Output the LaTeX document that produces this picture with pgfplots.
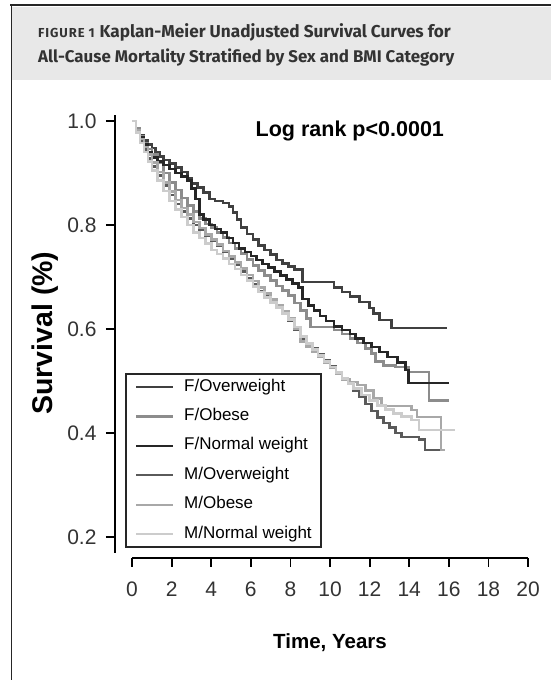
\documentclass[border=0pt]{standalone}
\usepackage{pgfplots}
\pgfplotsset{compat=1.18}
\usepackage{fontspec}
\setmainfont{Liberation Sans}
\newfontfamily\titlefont{Fira Sans}

\definecolor{fow}{HTML}{404040}
\definecolor{fob}{HTML}{8C8C8C}
\definecolor{fnw}{HTML}{262626}
\definecolor{mow}{HTML}{5A5A5A}
\definecolor{mob}{HTML}{A8A8A8}
\definecolor{mnw}{HTML}{CCCCCC}

% Kaplan-Meier steps: time (years), survival
\pgfplotstableread{
t s
0 1.000
0.2 0.985
0.4 0.972
0.6 0.962
0.8 0.955
1.0 0.948
1.2 0.940
1.4 0.932
1.6 0.925
1.9 0.918
2.2 0.910
2.5 0.902
2.8 0.890
3.0 0.880
3.3 0.872
3.6 0.862
3.9 0.850
4.2 0.846
4.6 0.842
4.9 0.836
5.1 0.824
5.3 0.810
5.5 0.795
5.8 0.783
6.1 0.772
6.4 0.760
6.7 0.752
7.0 0.743
7.3 0.733
7.6 0.726
7.9 0.720
8.2 0.714
8.6 0.690
10.2 0.680
10.6 0.671
11.0 0.662
11.5 0.652
12.0 0.640
12.2 0.630
12.5 0.617
13.1 0.602
15.9 0.602
}\fow

\pgfplotstableread{
t s
0 1.000
0.2 0.985
0.4 0.970
0.6 0.958
0.8 0.946
1.0 0.935
1.3 0.920
1.6 0.900
1.9 0.882
2.2 0.867
2.5 0.852
2.8 0.838
3.1 0.826
3.4 0.812
3.7 0.802
4.0 0.795
4.3 0.786
4.6 0.776
4.9 0.765
5.2 0.755
5.5 0.745
5.8 0.734
6.1 0.722
6.4 0.712
6.7 0.703
7.0 0.693
7.3 0.683
7.6 0.674
7.9 0.664
8.2 0.650
8.5 0.636
8.8 0.620
9.0 0.604
10.2 0.598
10.6 0.590
11.0 0.582
11.4 0.573
11.8 0.563
12.1 0.553
12.3 0.537
12.7 0.530
13.3 0.527
13.95 0.517
15.0 0.463
16.0 0.463
}\fob

\pgfplotstableread{
t s
0 1.000
0.2 0.983
0.4 0.968
0.6 0.955
0.8 0.940
1.0 0.930
1.3 0.922
1.6 0.915
1.9 0.908
2.2 0.900
2.5 0.893
2.8 0.886
3.0 0.870
3.2 0.850
3.4 0.820
3.6 0.810
3.9 0.800
4.2 0.792
4.5 0.785
4.8 0.775
5.1 0.765
5.4 0.755
5.7 0.748
6.0 0.740
6.3 0.733
6.6 0.725
6.9 0.718
7.2 0.710
7.5 0.703
7.8 0.695
8.1 0.688
8.4 0.680
8.6 0.658
8.9 0.645
9.2 0.635
9.5 0.625
9.8 0.615
10.2 0.605
10.6 0.598
11.0 0.590
11.3 0.582
11.7 0.573
12.1 0.565
12.5 0.556
12.9 0.546
13.4 0.535
13.8 0.521
13.95 0.496
16.0 0.496
}\fnw

\pgfplotstableread{
t s
0 1.000
0.2 0.980
0.4 0.962
0.6 0.945
0.8 0.928
1.0 0.912
1.3 0.895
1.6 0.876
1.9 0.858
2.2 0.840
2.5 0.826
2.8 0.812
3.1 0.800
3.4 0.790
3.7 0.780
4.0 0.770
4.3 0.760
4.6 0.748
4.9 0.735
5.2 0.724
5.5 0.710
5.8 0.697
6.1 0.685
6.4 0.672
6.7 0.662
7.0 0.652
7.3 0.643
7.6 0.632
7.9 0.615
8.2 0.598
8.5 0.582
8.8 0.572
9.1 0.562
9.4 0.552
9.7 0.540
10.0 0.528
10.3 0.516
10.6 0.505
10.9 0.494
11.2 0.482
11.5 0.470
11.8 0.456
12.1 0.442
12.4 0.430
12.7 0.419
13.0 0.410
13.3 0.400
13.6 0.392
14.5 0.387
14.8 0.367
15.8 0.367
}\mow

\pgfplotstableread{
t s
0 1.000
0.2 0.982
0.4 0.965
0.6 0.950
0.8 0.935
1.0 0.920
1.3 0.902
1.6 0.882
1.9 0.864
2.2 0.848
2.5 0.833
2.8 0.820
3.1 0.806
3.4 0.794
3.7 0.782
4.0 0.772
4.3 0.762
4.6 0.750
4.9 0.739
5.2 0.728
5.5 0.716
5.8 0.704
6.1 0.692
6.4 0.680
6.7 0.668
7.0 0.657
7.3 0.646
7.6 0.634
7.9 0.620
8.2 0.600
8.5 0.576
8.8 0.566
9.1 0.556
9.4 0.546
9.7 0.536
10.0 0.525
10.3 0.514
10.6 0.503
11.0 0.498
11.4 0.492
11.8 0.482
12.2 0.466
12.6 0.452
14.1 0.444
14.4 0.431
15.6 0.367
15.8 0.367
}\mob

\pgfplotstableread{
t s
0 1.000
0.2 0.978
0.4 0.958
0.6 0.940
0.8 0.922
1.0 0.905
1.3 0.885
1.6 0.865
1.9 0.846
2.2 0.830
2.5 0.815
2.8 0.800
3.1 0.786
3.4 0.775
3.7 0.764
4.0 0.752
4.3 0.744
4.6 0.735
4.9 0.725
5.2 0.715
5.5 0.704
5.8 0.693
6.1 0.682
6.4 0.671
6.7 0.661
7.0 0.651
7.3 0.641
7.6 0.630
7.9 0.618
8.2 0.604
8.5 0.585
8.8 0.572
9.1 0.560
9.4 0.549
9.7 0.538
10.0 0.527
10.3 0.516
10.6 0.505
10.9 0.495
11.2 0.485
11.6 0.473
12.0 0.463
12.4 0.453
12.8 0.445
13.2 0.438
13.6 0.432
14.1 0.425
14.5 0.406
16.3 0.406
}\mnw

\begin{document}
\begin{tikzpicture}
\useasboundingbox (0,0) rectangle (551bp,680bp);
% header band and frame
\fill[black!9] (12bp,600bp) rectangle (551bp,673bp);
\draw[line width=1.6bp, black!85] (10bp,675bp) -- (551bp,675bp);
\draw[line width=1.6bp, black!85] (11.5bp,675bp) -- (11.5bp,0bp);
\node[anchor=base west, inner sep=0pt, text=black!80]
  at (38bp,642bp) {\titlefont\bfseries\fontsize{17.2bp}{19bp}\selectfont
  {\fontsize{13bp}{16bp}\selectfont\addfontfeature{LetterSpace=7}FIGURE 1}\hspace{5bp}Kaplan-Meier Unadjusted Survival Curves for};
\node[anchor=base west, inner sep=0pt, text=black!80]
  at (38bp,617bp) {\titlefont\bfseries\fontsize{16.9bp}{19bp}\selectfont
  All-Cause Mortality Stratified by Sex and BMI Category};

\begin{axis}[
    at={(115bp,122.2bp)}, anchor=south west,
    x=19.8bp, y=520bp,
    xmin=-0.86, xmax=20,
    ymin=0.16, ymax=1.012,
    separate axis lines,
    axis x line*=bottom,
    axis y line*=left,
    axis line style={line width=1.8bp, -},
    x axis line style={shorten <=17bp},
    y axis line style={shorten <=5bp},
    tick style={line width=1.8bp, black},
    tick align=outside,
    major tick length=9bp,
    xtick={0,2,...,20},
    ytick={0.2,0.4,0.6,0.8,1.0},
    yticklabel style={/pgf/number format/fixed, /pgf/number format/fixed zerofill,
        /pgf/number format/precision=1, xshift=-6bp},
    xticklabel style={yshift=-12bp},
    /pgf/number format/assume math mode=true,
    ticklabel style={font=\fontsize{21bp}{25bp}\selectfont, text=black!80},
    xlabel={\textbf{Time, Years}},
    ylabel={\textbf{Survival (\%)}},
    every axis x label/.style={at={(axis cs:10,-0.004)}, anchor=center,
        font=\fontsize{20.5bp}{24bp}\selectfont},
    every axis y label/.style={at={(axis cs:-4.4,0.592)}, anchor=center, rotate=90,
        font=\fontsize{28.5bp}{33bp}\selectfont},
    legend style={at={(axis cs:-0.354,0.1788)}, anchor=south west,
        draw=black!85, line width=1.8bp,
        font=\fontsize{17bp}{20bp}\selectfont,
        inner xsep=9bp, inner ysep=5bp,
        row sep=13.4bp,
        nodes={inner sep=0pt, text height=12bp, text depth=4bp},
        /tikz/every odd column/.append style={column sep=10bp}},
    legend cell align=left,
    legend image code/.code={\draw[#1, line width=2.3bp] (0bp,0bp) -- (37bp,0bp);},
    every axis plot/.append style={const plot},
]
\addplot[fow, line width=2.6bp] table[x=t, y=s] {\fow};
\addplot[fob, line width=2.6bp] table[x=t, y=s] {\fob};
\addplot[fnw, line width=2.6bp] table[x=t, y=s] {\fnw};
\addplot[mow, line width=2.6bp] table[x=t, y=s] {\mow};
\addplot[mob, line width=2.6bp] table[x=t, y=s] {\mob};
\addplot[mnw, line width=2.6bp] table[x=t, y=s] {\mnw};
\legend{F/Overweight, F/Obese, F/Normal weight, M/Overweight, M/Obese, M/Normal weight}
\node[font=\bfseries\fontsize{21.5bp}{25bp}\selectfont] at (axis cs:11.0,0.981) {Log rank p<0.0001};
\end{axis}
\end{tikzpicture}
\end{document}
